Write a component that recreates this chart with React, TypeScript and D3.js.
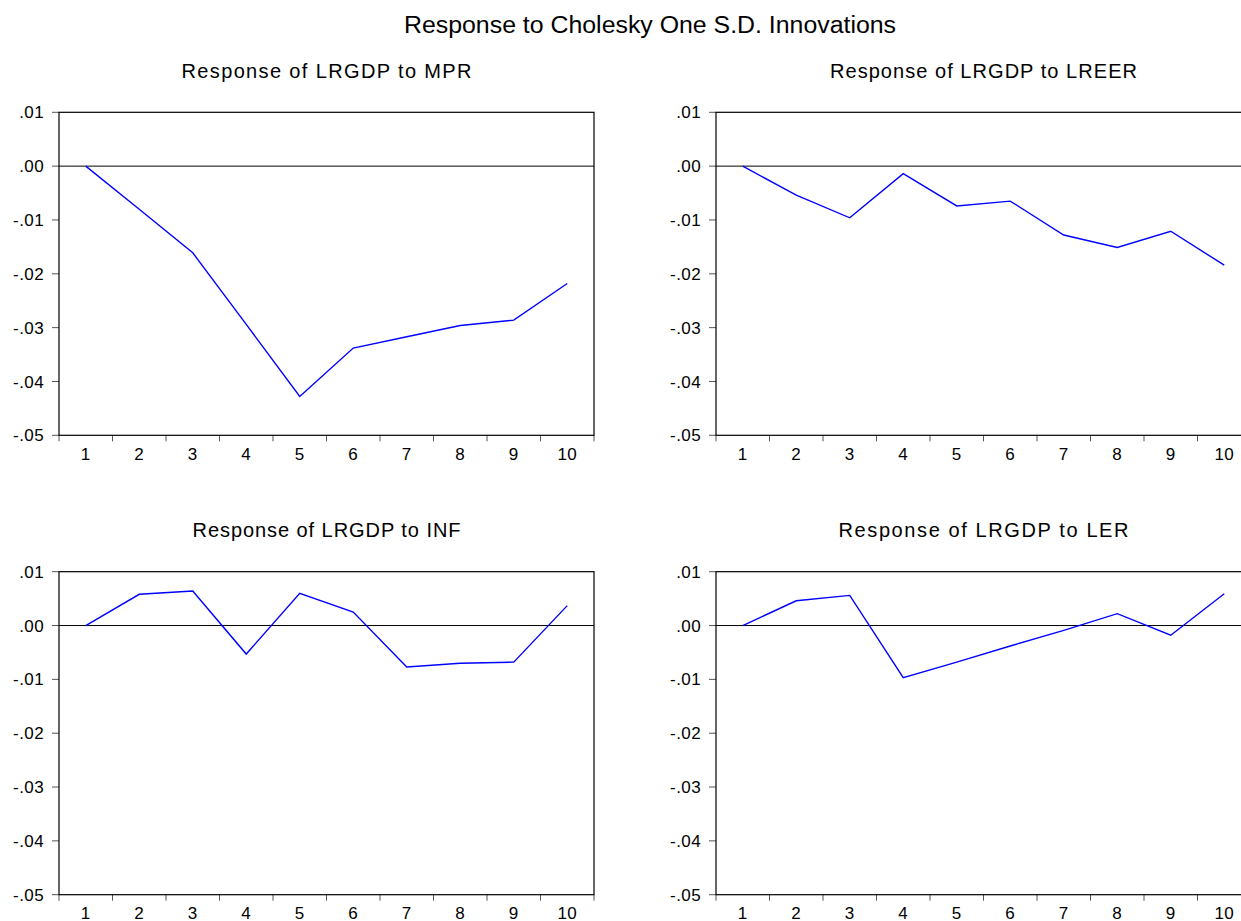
import React from "react";
import * as d3 from "d3";

const periods = ["1", "2", "3", "4", "5", "6", "7", "8", "9", "10"];
const yTickValues = [-0.05, -0.04, -0.03, -0.02, -0.01, 0.0, 0.01];
const yTickLabels = ["-.05", "-.04", "-.03", "-.02", "-.01", ".00", ".01"];

const responseMPR = [0.0, -0.0080, -0.0161, -0.0294, -0.0428, -0.0338, -0.0317, -0.0296, -0.0286, -0.0218];
const responseLREER = [0.0, -0.0054, -0.0096, -0.0014, -0.0074, -0.0065, -0.0128, -0.0151, -0.0121, -0.0184];
const responseINF = [0.0, 0.0058, 0.0064, -0.0053, 0.0060, 0.0025, -0.0077, -0.0070, -0.0068, 0.0037];
const responseLER = [0.0, 0.0046, 0.0056, -0.0097, -0.0068, -0.0038, -0.0009, 0.0022, -0.0018, 0.0059];

const mainTitle = "Response to Cholesky One S.D. Innovations";
const panelTitles = [
  "Response of LRGDP to MPR",
  "Response of LRGDP to LREER",
  "Response of LRGDP to INF",
  "Response of LRGDP to LER",
];
const panelSeries = [responseMPR, responseLREER, responseINF, responseLER];

const layout = [
  { left: 59, top: 112.3, titleLen: 290 },
  { left: 716, top: 112.3, titleLen: 307 },
  { left: 59, top: 571.7, titleLen: 268 },
  { left: 716, top: 571.7, titleLen: 290 },
];
const plotW = 535;
const plotH = 323;
const FONT = "Arial, 'Liberation Sans', Helvetica, sans-serif";

function Panel({ idx }: { idx: number }) {
  const { left, top, titleLen } = layout[idx];
  const values = panelSeries[idx];
  const x = d3.scaleBand<string>().domain(periods).range([left, left + plotW]).padding(0);
  const y = d3.scaleLinear().domain([-0.05, 0.01]).range([top + plotH, top]);
  const line = d3
    .line<number>()
    .x((_, i) => (x(periods[i]) as number) + x.bandwidth() / 2)
    .y((v) => y(v));
  const bottom = top + plotH;
  const right = left + plotW;
  const boundaries = [...periods.map((p) => x(p) as number), right];
  const cx = left + plotW / 2;
  return (
    <g>
      <text
        x={cx}
        y={top - 34.5}
        textAnchor="middle"
        fontFamily={FONT}
        fontSize={20}
        textLength={titleLen}
        lengthAdjust="spacing"
        fill="#000"
      >
        {panelTitles[idx]}
      </text>
      {yTickValues.map((v, i) => (
        <g key={"yt" + i}>
          <line x1={left - 7} x2={left} y1={y(v)} y2={y(v)} stroke="#555" strokeWidth={1} />
          <text
            x={left - 15}
            y={y(v)}
            dy="0.36em"
            textAnchor="end"
            fontFamily={FONT}
            fontSize={17}
            letterSpacing={0.4}
            fill="#000"
          >
            {yTickLabels[i]}
          </text>
        </g>
      ))}
      {boundaries.map((bx, i) => (
        <line key={"xt" + i} x1={bx} x2={bx} y1={bottom} y2={bottom + 6} stroke="#555" strokeWidth={1} />
      ))}
      {periods.map((p) => (
        <text
          key={"xl" + p}
          x={(x(p) as number) + x.bandwidth() / 2}
          y={bottom + 24.5}
          textAnchor="middle"
          fontFamily={FONT}
          fontSize={17}
          letterSpacing={0.4}
          fill="#000"
        >
          {p}
        </text>
      ))}
      <line x1={left} x2={right} y1={y(0)} y2={y(0)} stroke="#000" strokeWidth={1} />
      <rect x={left} y={top} width={plotW} height={plotH} fill="none" stroke="#000" strokeWidth={1.2} />
      <path d={line(values) || ""} fill="none" stroke="#0000FF" strokeWidth={1.4} strokeLinejoin="miter" />
    </g>
  );
}

export default function App() {
  return (
    <svg
      width={1241}
      height={921}
      style={{ position: "absolute", left: 0, top: 0, background: "#fff" }}
    >
      <rect x={0} y={0} width={1241} height={921} fill="#fff" />
      <text
        x={650}
        y={33}
        textAnchor="middle"
        fontFamily={FONT}
        fontSize={23}
        textLength={492}
        lengthAdjust="spacingAndGlyphs"
        fill="#000"
      >
        {mainTitle}
      </text>
      {[0, 1, 2, 3].map((i) => (
        <Panel key={i} idx={i} />
      ))}
    </svg>
  );
}
